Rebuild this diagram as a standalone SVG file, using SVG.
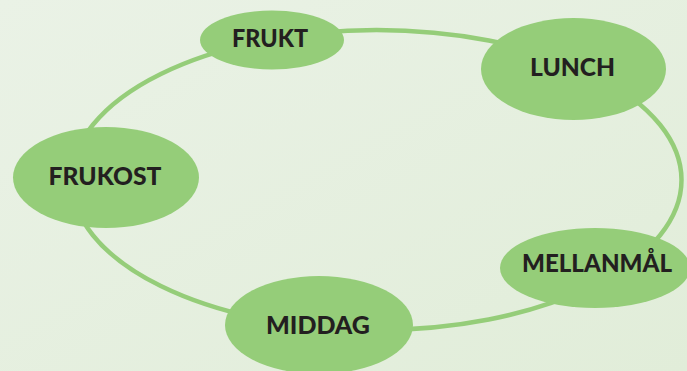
<svg xmlns="http://www.w3.org/2000/svg" width="687" height="371" viewBox="0 0 687 371">
  <defs>
    <linearGradient id="bg" x1="0" y1="0" x2="1" y2="1">
      <stop offset="0" stop-color="#eaf2e6"/>
      <stop offset="1" stop-color="#e1edd9"/>
    </linearGradient>
  </defs>
  <style>
    .node { fill: #95cd79; }
    .ring { fill: none; stroke: #95cd79; stroke-width: 4.5; }
    .label { font-family: Lato, "Liberation Sans", Arial, sans-serif; font-weight: 900; font-size: 25px; fill: #231f20; text-anchor: middle; }
  </style>
  <rect width="687" height="371" fill="url(#bg)"/>
  <g id="connectors">
    <ellipse class="ring" cx="376.5" cy="180" rx="305" ry="150"/>
  </g>
  <g id="frukt">
    <ellipse class="node" cx="272" cy="40" rx="72" ry="29.5"/>
    <text class="label" x="270" y="46.5" textLength="76" lengthAdjust="spacingAndGlyphs">FRUKT</text>
  </g>
  <g id="lunch">
    <ellipse class="node" cx="573.5" cy="69" rx="92.5" ry="51"/>
    <text class="label" x="572.5" y="76" textLength="85" lengthAdjust="spacingAndGlyphs">LUNCH</text>
  </g>
  <g id="frukost">
    <ellipse class="node" cx="106" cy="177.5" rx="93" ry="50.5"/>
    <text class="label" x="105" y="185" textLength="113" lengthAdjust="spacingAndGlyphs">FRUKOST</text>
  </g>
  <g id="mellanmal">
    <ellipse class="node" cx="595" cy="268" rx="95" ry="40"/>
    <text class="label" x="597" y="271.5" textLength="150" lengthAdjust="spacingAndGlyphs">MELLANMÅL</text>
  </g>
  <g id="middag">
    <ellipse class="node" cx="319" cy="325" rx="94" ry="49"/>
    <text class="label" x="318" y="334" textLength="104" lengthAdjust="spacingAndGlyphs">MIDDAG</text>
  </g>
</svg>
